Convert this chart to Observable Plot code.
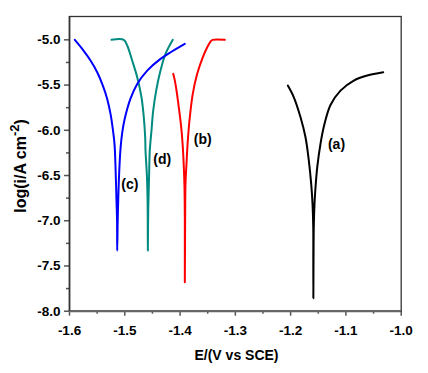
<!DOCTYPE html>
<html><head><meta charset="utf-8">
<script src="https://cdn.jsdelivr.net/npm/d3@7"></script>
<script src="https://cdn.jsdelivr.net/npm/@observablehq/plot@0.6"></script>
<style>body{margin:0;background:#fff}</style>
</head><body><div id="chart"></div>
<script>
// Axis ticks
const xTicks = [-1.6, -1.5, -1.4, -1.3, -1.2, -1.1, -1.0];
const xMinorTicks = [-1.55, -1.45, -1.35, -1.25, -1.15, -1.05];
const yTicks = [-8.0, -7.5, -7.0, -6.5, -6.0, -5.5, -5.0];
const yMinorTicks = [-7.75, -7.25, -6.75, -6.25, -5.75, -5.25];

// Curve (a) - black
const aE = [-1.2051, -1.1942, -1.1821, -1.1731, -1.1671, -1.1628, -1.1604, -1.1591, -1.1590, -1.1589, -1.1585, -1.1580, -1.1568, -1.1550, -1.1519, -1.1460, -1.1387, -1.1279, -1.1098, -1.0857, -1.0615, -1.0325];
const aLog = [-5.506, -5.635, -5.856, -6.077, -6.335, -6.593, -6.814, -7.073, -7.400, -7.858, -7.300, -7.035, -6.814, -6.630, -6.409, -6.150, -5.929, -5.720, -5.561, -5.450, -5.395, -5.358];

// Curve (b) - red
const bE = [-1.4124, -1.4101, -1.4064, -1.4023, -1.3979, -1.3950, -1.3932, -1.3920, -1.3914, -1.3914, -1.3908, -1.3902, -1.3884, -1.3860, -1.3824, -1.3770, -1.3690, -1.3600, -1.3509, -1.3449, -1.3413, -1.3191];
const bLog = [-5.376, -5.432, -5.561, -5.745, -5.967, -6.188, -6.409, -6.630, -6.962, -7.681, -7.000, -6.593, -6.372, -6.114, -5.856, -5.597, -5.376, -5.210, -5.082, -5.019, -5.000, -5.000];

// Curve (c) - blue
const cE = [-1.5904, -1.5770, -1.5620, -1.5499, -1.5397, -1.5318, -1.5258, -1.5217, -1.5186, -1.5168, -1.5150, -1.5140, -1.5137, -1.5128, -1.5119, -1.5100, -1.5077, -1.5045, -1.5000, -1.4897, -1.4775, -1.4594, -1.4354, -1.4142, -1.3914];
const cLog = [-5.000, -5.100, -5.229, -5.358, -5.506, -5.653, -5.819, -5.985, -6.150, -6.400, -6.778, -7.000, -7.331, -7.000, -6.778, -6.450, -6.200, -6.020, -5.870, -5.650, -5.487, -5.340, -5.210, -5.126, -5.044];

// Curve (d) - teal
const dE = [-1.5240, -1.5018, -1.4956, -1.4866, -1.4775, -1.4698, -1.4656, -1.4631, -1.4625, -1.4600, -1.4587, -1.4583, -1.4575, -1.4560, -1.4548, -1.4517, -1.4486, -1.4432, -1.4354, -1.4263, -1.4131];
const dLog = [-5.000, -5.000, -5.063, -5.229, -5.414, -5.635, -5.856, -6.077, -6.225, -6.500, -6.800, -7.331, -6.850, -6.500, -6.225, -6.003, -5.782, -5.561, -5.340, -5.155, -5.000];

// Curve labels
const labelText = ["(a)", "(b)", "(c)", "(d)"];
const labelE = [-1.117, -1.3589, -1.4909, -1.4323];
const labelLog = [-6.158, -6.103, -6.601, -6.327];

const rows = (E, L) => E.map((e, i) => ({E: e, logI: L[i]}));
const labels = labelText.map((t, i) => ({t, E: labelE[i], logI: labelLog[i]}));

const font = "'Liberation Sans', Arial, Helvetica, sans-serif";
const chart = Plot.plot({
  width: 428, height: 373,
  marginLeft: 69, marginRight: 27.3, marginTop: 16, marginBottom: 62.3,
  style: {fontFamily: font, fontWeight: "bold", fontSize: "13px", color: "#000", background: "#fff"},
  x: {domain: [-1.6, -1.0]},
  y: {domain: [-8.0, -4.742]},
  marks: [
    Plot.axisX({ticks: xTicks, tickSize: 5, tickPadding: 9, tickFormat: d => d.toFixed(1), label: null, stroke: "#555", strokeWidth: 1.5, fill: "#000", fontSize: 13.5, fontWeight: "bold"}),
    Plot.axisX({ticks: xMinorTicks, tickSize: 3, tickFormat: () => "", label: null, stroke: "#555", strokeWidth: 1.5}),
    Plot.axisY({ticks: yTicks, tickSize: 5, tickPadding: 4, tickFormat: d => d.toFixed(1), label: null, stroke: "#555", strokeWidth: 1.5, fill: "#000", fontSize: 13.5, fontWeight: "bold"}),
    Plot.axisY({ticks: yMinorTicks, tickSize: 3, tickFormat: () => "", label: null, stroke: "#555", strokeWidth: 1.5}),
    Plot.frame({stroke: "#333", strokeWidth: 1.3}),
    Plot.ruleY([-8.0], {stroke: "#666", strokeWidth: 2.2}),
    Plot.ruleX([-1.6], {stroke: "#333", strokeWidth: 1.6}),
    Plot.line(rows(aE, aLog), {x: "E", y: "logI", stroke: "#000", strokeWidth: 2, curve: "catmull-rom"}),
    Plot.line(rows(bE, bLog), {x: "E", y: "logI", stroke: "#ff0000", strokeWidth: 2, curve: "catmull-rom"}),
    Plot.line(rows(dE, dLog), {x: "E", y: "logI", stroke: "#008b80", strokeWidth: 2, curve: "catmull-rom"}),
    Plot.line(rows(cE, cLog), {x: "E", y: "logI", stroke: "#0000ff", strokeWidth: 2, curve: "catmull-rom"}),
    Plot.text(labels, {x: "E", y: "logI", text: "t", fontSize: 14, fontWeight: "bold", fill: "#000"})
  ]
});

const svg = d3.select(chart);
// X axis label
svg.append("text")
  .attr("x", 236.5).attr("y", 360)
  .attr("text-anchor", "middle")
  .attr("font-family", font).attr("font-weight", "bold").attr("font-size", 14)
  .attr("fill", "#000")
  .text("E/(V vs SCE)");
// Y axis label with superscript
const yl = svg.append("text")
  .attr("transform", "translate(26,166) rotate(-90)")
  .attr("text-anchor", "middle")
  .attr("font-family", font).attr("font-weight", "bold").attr("font-size", 16)
  .attr("fill", "#000");
yl.append("tspan").text("log(i/A cm");
yl.append("tspan").attr("font-size", 13).attr("dy", -7).text("-2");
yl.append("tspan").attr("dy", 7).text(")");

document.getElementById("chart").appendChild(chart);
</script>
</body></html>
